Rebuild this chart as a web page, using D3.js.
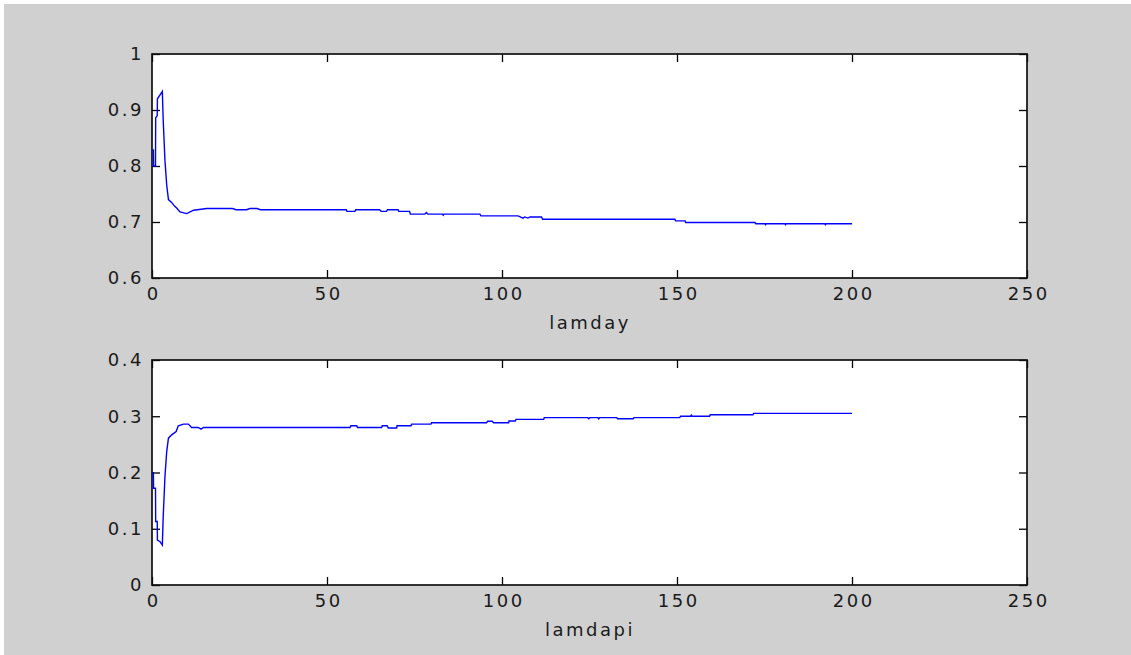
<!DOCTYPE html>
<html>
<head>
<meta charset="utf-8">
<script src="https://d3js.org/d3.v7.min.js"></script>
<style>
  html, body { margin: 0; padding: 0; background: #ffffff; }
  svg { display: block; }
  .tick text, .xlab { font-family: "DejaVu Sans", sans-serif; font-size: 18px; fill: #1a1a1a; letter-spacing: 2.5px; }
</style>
</head>
<body>
<svg id="fig" width="1131" height="655"></svg>
<script>
// x ticks shared by both panels
const xTicks = [0, 50, 100, 150, 200, 250];

// lamday trace
const lamdayX = [0.4, 0.45, 1.0, 1.05, 1.5, 1.55, 2.3, 2.95, 3.2, 3.7, 4.2, 4.7, 5.6, 6.5, 7.05, 8.0, 9.9, 11.9, 15.6,
  23, 24, 27, 28, 30, 31, 55.5, 55.7, 58, 58.2, 65, 65.5, 67, 67.3, 70.3, 70.5, 73.6, 73.8, 77.9, 78.4, 78.8,
  83, 83.2, 83.4, 93.7, 94, 104.6, 106, 106.5, 107.4, 108, 111.3, 111.6, 149.4, 149.6, 152.3, 152.5, 172.3, 172.5,
  175.1, 175.3, 175.5, 180.8, 181, 181.2, 192.2, 192.4, 192.6, 200];
const lamdayY = [0.830, 0.800, 0.800, 0.886, 0.890, 0.920, 0.927, 0.933, 0.882, 0.810, 0.766, 0.740, 0.735, 0.728, 0.725, 0.718, 0.715, 0.721, 0.724,
  0.724, 0.722, 0.722, 0.724, 0.724, 0.722, 0.722, 0.719, 0.719, 0.722, 0.722, 0.719, 0.719, 0.722, 0.722, 0.719, 0.719, 0.714, 0.714, 0.717, 0.714,
  0.714, 0.712, 0.714, 0.714, 0.711, 0.711, 0.707, 0.709, 0.707, 0.709, 0.709, 0.705, 0.705, 0.702, 0.702, 0.699, 0.699, 0.697,
  0.697, 0.695, 0.697, 0.697, 0.695, 0.697, 0.697, 0.695, 0.697, 0.697];
const lamdayTicks = [0.6, 0.7, 0.8, 0.9, 1];

// lamdapi trace
const lamdapiX = [0.4, 0.45, 1.0, 1.05, 1.5, 1.55, 2.3, 2.95, 3.2, 3.7, 4.2, 4.7, 5.6, 6.9, 7.5, 9.0, 10.4, 11.3, 13.2, 14.0, 14.7, 15.6,
  56.6, 56.8, 58.5, 58.7, 65.6, 65.8, 67.2, 67.5, 69.9, 70.0, 74.0, 74.2, 79.7, 79.9, 95.6, 95.9, 97.2, 97.6, 101.9, 102.0,
  103.8, 104.0, 111.9, 112.1, 124.5, 124.8, 125.1, 127.4, 127.6, 127.9, 132.8, 133.0, 137.5, 137.7, 150.8, 151.0,
  153.9, 154.1, 154.3, 159.3, 159.5, 171.7, 171.9, 200];
const lamdapiY = [0.201, 0.172, 0.172, 0.113, 0.113, 0.080, 0.077, 0.071, 0.121, 0.193, 0.237, 0.261, 0.267, 0.273, 0.283, 0.286, 0.286, 0.280, 0.280, 0.277, 0.280, 0.280,
  0.280, 0.283, 0.283, 0.280, 0.280, 0.283, 0.283, 0.279, 0.279, 0.283, 0.283, 0.286, 0.286, 0.2885, 0.2885, 0.291, 0.291, 0.2885, 0.2885, 0.2915,
  0.2915, 0.2945, 0.2945, 0.2975, 0.2975, 0.2955, 0.2975, 0.2975, 0.2955, 0.2975, 0.2975, 0.2955, 0.2955, 0.2975, 0.2975, 0.300,
  0.300, 0.302, 0.300, 0.300, 0.3028, 0.3028, 0.3052, 0.3052];
const lamdapiTicks = [0, 0.1, 0.2, 0.3, 0.4];

const svg = d3.select("#fig");

// figure background
svg.append("rect").attr("x", 4).attr("y", 4).attr("width", 1127).attr("height", 651).attr("fill", "#d0d0d0");

function panel(cfg) {
  const x = d3.scaleLinear().domain([0, 250]).range([152, 1027]);
  const y = d3.scaleLinear().domain(cfg.domain).range([cfg.bottom, cfg.top]);
  const g = svg.append("g");

  g.append("rect")
    .attr("x", x.range()[0]).attr("y", cfg.top)
    .attr("width", x.range()[1] - x.range()[0]).attr("height", cfg.bottom - cfg.top)
    .attr("fill", "#ffffff");

  const fmt = d => String(d);

  // bottom and left axes carry the labels; ticks point inward
  g.append("g").attr("transform", `translate(0,${cfg.bottom})`)
    .call(d3.axisBottom(x).tickValues(xTicks).tickFormat(fmt).tickSizeInner(-8).tickSizeOuter(0).tickPadding(9))
    .selectAll("text").attr("dx", "0.07em");
  g.append("g").attr("transform", `translate(${x.range()[0]},0)`)
    .call(d3.axisLeft(y).tickValues(cfg.ticks).tickFormat(fmt).tickSizeInner(-8).tickSizeOuter(0).tickPadding(8));
  // mirrored ticks on top and right edges
  g.append("g").attr("transform", `translate(0,${cfg.top})`)
    .call(d3.axisTop(x).tickValues(xTicks).tickFormat("").tickSizeInner(-8).tickSizeOuter(0));
  g.append("g").attr("transform", `translate(${x.range()[1]},0)`)
    .call(d3.axisRight(y).tickValues(cfg.ticks).tickFormat("").tickSizeInner(-8).tickSizeOuter(0));

  g.selectAll(".domain").remove();
  g.selectAll(".tick line").attr("stroke", "#000").attr("stroke-width", 1.3);

  // frame
  g.append("rect")
    .attr("x", x.range()[0]).attr("y", cfg.top)
    .attr("width", x.range()[1] - x.range()[0]).attr("height", cfg.bottom - cfg.top)
    .attr("fill", "none").attr("stroke", "#111").attr("stroke-width", 1.7);

  const pts = cfg.xs.map((v, i) => [v, cfg.ys[i]]);
  g.append("path")
    .datum(pts)
    .attr("fill", "none")
    .attr("stroke", "#0000ff")
    .attr("stroke-width", 1.4)
    .attr("d", d3.line().x(d => x(d[0])).y(d => y(d[1])));

  g.append("text").attr("class", "xlab")
    .attr("x", 590).attr("y", cfg.bottom + 51)
    .attr("text-anchor", "middle")
    .text(cfg.label);
}

panel({ domain: [0.6, 1], top: 54, bottom: 278, ticks: lamdayTicks, xs: lamdayX, ys: lamdayY, label: "lamday" });
panel({ domain: [0, 0.4], top: 360, bottom: 585, ticks: lamdapiTicks, xs: lamdapiX, ys: lamdapiY, label: "lamdapi" });
</script>
</body>
</html>
